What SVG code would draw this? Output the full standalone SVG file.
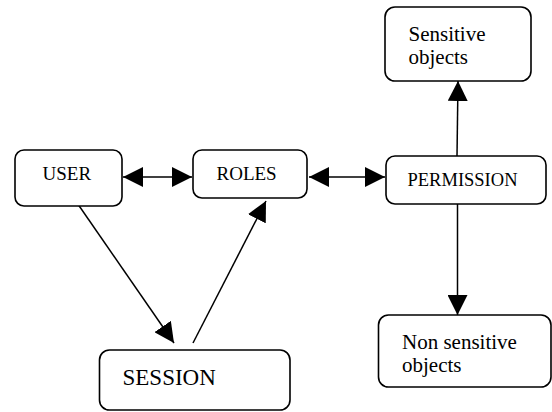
<svg xmlns="http://www.w3.org/2000/svg" width="552" height="412" viewBox="0 0 552 412">
  <style>
    .box { fill: #ffffff; stroke: #000000; stroke-width: 1.6; }
    .lbl { font-family: "Liberation Serif", "Times New Roman", serif; fill: #000000; }
    .edge { stroke: #000000; stroke-width: 1.5; fill: none; }
  </style>
  <defs>
    <marker id="head" markerUnits="userSpaceOnUse" markerWidth="20" markerHeight="20" viewBox="0 0 20 20" refX="20" refY="10" orient="auto-start-reverse">
      <path d="M0,0 L20,10 L0,20 Z" fill="#000000"/>
    </marker>
  </defs>
  <rect width="552" height="412" fill="#ffffff"/>

  <g id="connectors">
    <line class="edge" x1="123" y1="177" x2="192" y2="177" marker-start="url(#head)" marker-end="url(#head)"/>
    <line class="edge" x1="309" y1="177" x2="385" y2="177" marker-start="url(#head)" marker-end="url(#head)"/>
    <line class="edge" x1="457" y1="156" x2="458" y2="81" marker-end="url(#head)"/>
    <line class="edge" x1="457.5" y1="204" x2="457.5" y2="315" marker-end="url(#head)"/>
    <line class="edge" x1="73" y1="197" x2="174" y2="343" marker-end="url(#head)"/>
    <line class="edge" x1="193" y1="343" x2="266" y2="201" marker-end="url(#head)"/>
  </g>

  <g id="user">
    <rect class="box" x="15" y="150" width="107" height="56" rx="9"/>
    <text class="lbl" x="42.5" y="180" font-size="19">USER</text>
  </g>
  <g id="roles">
    <rect class="box" x="193" y="150" width="114" height="48" rx="9"/>
    <text class="lbl" x="216.5" y="180" font-size="19">ROLES</text>
  </g>
  <g id="permission">
    <rect class="box" x="386" y="156" width="160" height="48" rx="9"/>
    <text class="lbl" x="407.5" y="186" font-size="18.5">PERMISSION</text>
  </g>
  <g id="sensitive-objects">
    <rect class="box" x="385" y="7" width="146" height="74" rx="10"/>
    <text class="lbl" x="408.5" y="40.5" font-size="21">Sensitive</text>
    <text class="lbl" x="408.5" y="63.5" font-size="21">objects</text>
  </g>
  <g id="non-sensitive-objects">
    <rect class="box" x="378.5" y="315" width="172.5" height="72" rx="10"/>
    <text class="lbl" x="402" y="348.5" font-size="21">Non sensitive</text>
    <text class="lbl" x="402" y="371.5" font-size="21">objects</text>
  </g>
  <g id="session">
    <rect class="box" x="99.5" y="350" width="190.5" height="60" rx="10"/>
    <text class="lbl" x="122.5" y="384.5" font-size="23">SESSION</text>
  </g>
</svg>
